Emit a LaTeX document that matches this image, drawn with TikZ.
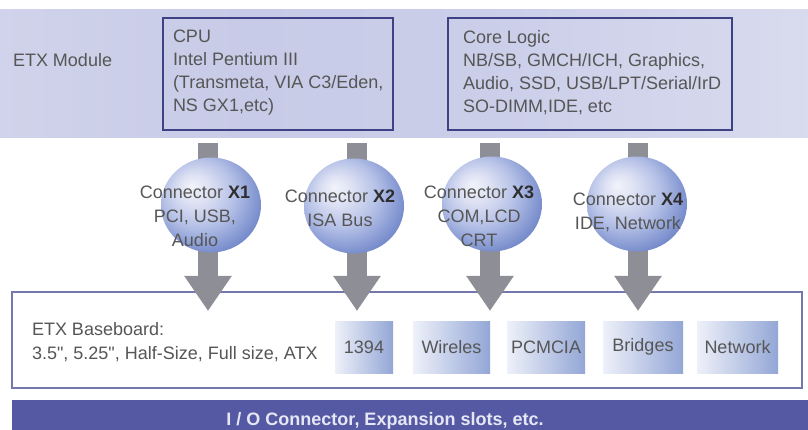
\documentclass[tikz,border=0pt]{standalone}
\usepackage{fontspec}
\setmainfont{Liberation Sans}[Ligatures=TeXOff]
\usetikzlibrary{shapes.geometric,arrows.meta}
\definecolor{txt}{HTML}{565656}
\definecolor{txtb}{HTML}{2E2E2E}
\definecolor{bandA}{HTML}{DEE0F1}
\definecolor{bandB}{HTML}{C8CBE7}
\definecolor{bandC}{HTML}{CBCEE9}
\definecolor{bandD}{HTML}{DCDEEF}
\definecolor{bandE}{HTML}{F8F8FB}
\definecolor{navy}{HTML}{3E4183}
\definecolor{baseline}{HTML}{7478AA}
\definecolor{arrowgray}{HTML}{8E8E96}
\definecolor{sphA}{HTML}{F2F3FA}
\definecolor{sphB}{HTML}{DCE0F3}
\definecolor{sphC}{HTML}{B4C0E6}
\definecolor{sphD}{HTML}{8598D2}
\definecolor{sphE}{HTML}{5C74BF}
\definecolor{sphF}{HTML}{4E66B5}
\definecolor{sbL}{HTML}{EEF1F9}
\definecolor{sbR}{HTML}{93A6D6}
\definecolor{barc}{HTML}{5559A3}
\definecolor{bartxt}{HTML}{E6E7F4}
\pgfdeclarehorizontalshading{bandshade}{100bp}{color(0bp)=(bandA); color(40bp)=(bandB); color(55bp)=(bandC); color(80bp)=(bandD); color(100bp)=(bandE)}
\pgfdeclareradialshading{sphere}{\pgfqpoint{-10bp}{10bp}}{color(0bp)=(sphA); color(8bp)=(sphB); color(18bp)=(sphC); color(27bp)=(sphD); color(35bp)=(sphE); color(50bp)=(sphF)}
\begin{document}
\begin{tikzpicture}[x=1pt,y=-1pt,
  every node/.style={inner sep=0pt, outer sep=0pt, text=txt, font=\fontsize{18}{24}\selectfont},
  modbox/.style={draw=navy, line width=2.5pt, rectangle, anchor=north west},
  line/.style={anchor=base west},
  ball/.style={ellipse, shading=sphere, minimum width=100pt, minimum height=95pt},
  lbl/.style={align=center},
  bigarrow/.style={draw=arrowgray, line width=20pt, -{Triangle[width=45pt,length=35pt]}},
  smallbox/.style={rectangle, left color=sbL, right color=sbR, minimum height=52pt}]
\useasboundingbox (0,0) rectangle (808,430);
% top band
\shade[shading=bandshade] (0,10) rectangle (808,138);
\node[line] (etxm) at (13,67) {ETX Module};
\node[modbox, minimum width=230pt, minimum height=112pt] (cpu) at (163,18) {};
\node[line] (cpu1) at (173,43) {CPU};
\node[line] (cpu2) at (173,66) {Intel Pentium III};
\node[line] (cpu3) at (173,89) {(Transmeta, VIA C3/Eden,};
\node[line] (cpu4) at (173,112) {NS GX1,etc)};
\node[modbox, minimum width=284pt, minimum height=112pt] (core) at (448,18) {};
\node[line] (core1) at (463,44) {Core Logic};
\node[line] (core2) at (463,67) {NB/SB, GMCH/ICH, Graphics,};
\node[line] (core3) at (463,90) {Audio, SSD, USB/LPT/Serial/IrD};
\node[line] (core4) at (463,113) {SO-DIMM,IDE, etc};
% baseboard
\node[draw=baseline, line width=2pt, fill=white, rectangle, anchor=north west, minimum width=790pt, minimum height=96pt] (base) at (12,292) {};
\node[line] (base1) at (32,335) {ETX Baseboard:};
\node[line] (base2) at (32,359) {3.5", 5.25", Half-Size, Full size, ATX};
\node[smallbox, minimum width=58pt] (s1) at (364,347) {1394};
\node[smallbox, minimum width=77pt] (s2) at (451.5,347) {Wireles};
\node[smallbox, minimum width=78pt] (s3) at (546,347) {PCMCIA};
\node[smallbox, minimum width=80pt] (s4) at (643,347) {Bridges};
\node[smallbox, minimum width=81pt] (s5) at (737.5,347) {Network};
% arrows
\coordinate (t1) at (208,143); \coordinate (b1) at (208,311);
\coordinate (t2) at (357,143); \coordinate (b2) at (357,311);
\coordinate (t3) at (490,143); \coordinate (b3) at (490,311);
\coordinate (t4) at (638,143); \coordinate (b4) at (638,311);
\draw[bigarrow] (t1) -- (b1);
\draw[bigarrow] (t2) -- (b2);
\draw[bigarrow] (t3) -- (b3);
\draw[bigarrow] (t4) -- (b4);
% connector balls
\node[ball] (c1) at (211,205) {};
\node[ball] (c2) at (354,206) {};
\node[ball] (c3) at (492,204) {};
\node[ball] (c4) at (637,204) {};
\node[lbl] (l1) at (195,216) {Connector {\color{txtb}\bfseries X1}\\PCI, USB,\\Audio};
\node[lbl] (l2) at (340,208) {Connector {\color{txtb}\bfseries X2}\\ISA Bus};
\node[lbl] (l3) at (479,216) {Connector {\color{txtb}\bfseries X3}\\COM,LCD\\CRT};
\node[lbl] (l4) at (628,212) {Connector {\color{txtb}\bfseries X4}\\IDE, Network};
% bottom bar
\fill[barc] (12,400) rectangle (808,432);
\node[anchor=base, text=bartxt, font=\fontsize{18}{24}\selectfont\bfseries] (io) at (385,425) {I / O Connector, Expansion slots, etc.};
\end{tikzpicture}
\end{document}
